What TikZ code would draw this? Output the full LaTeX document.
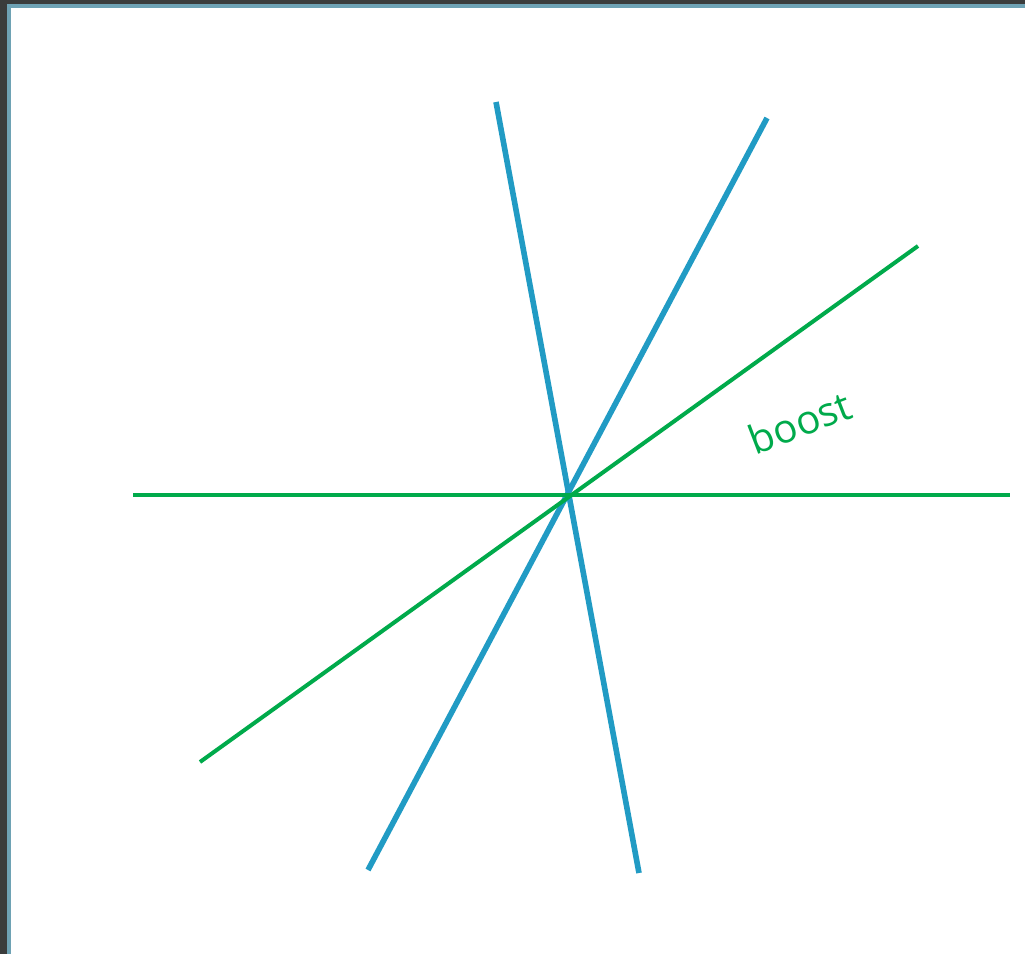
\documentclass[tikz,border=0pt]{standalone}
\usepackage{fontspec}
\setsansfont{Open Sans}
\usepackage{xcolor}
\definecolor{framedark}{RGB}{58,60,60}
\definecolor{frameteal}{RGB}{110,162,180}
\definecolor{worldblue}{RGB}{33,155,196}
\definecolor{boostgreen}{RGB}{0,170,75}
\usepackage{tikz}
\usetikzlibrary{positioning,calc}

\begin{document}
\begin{tikzpicture}[x=1pt,y=-1pt]
  \tikzstyle{axis}=[draw=worldblue,line width=5.6pt]
  \tikzstyle{boostaxis}=[draw=boostgreen,line width=4pt]
  % frame
  \fill[framedark] (0,0) rectangle (1025,954);
  \fill[frameteal] (7,4) rectangle (1025,954);
  \fill[white] (11,8) rectangle (1025,954);
  \useasboundingbox (0,0) rectangle (1025,954);

  \coordinate (origin) at (567,495);
  \coordinate (xleft) at (133,495);
  \coordinate (xright) at (1010,495);
  \coordinate (bleft) at (200,762);
  \coordinate (bright) at (918,246);
  \coordinate (tup) at (496,102);
  \coordinate (tdown) at (639,873);
  \coordinate (sup) at (767,118);
  \coordinate (sdown) at (368,870);

  \draw[axis] (tup) -- (tdown);
  \draw[axis] (sup) -- (sdown);
  \draw[boostaxis] (xleft) -- (xright);
  \draw[boostaxis] (bleft) -- (bright);

  \node[text=boostgreen,font=\sffamily\fontsize{40}{48}\selectfont,rotate=21,inner sep=0pt] (boostlabel) at (800,422) {boost};
\end{tikzpicture}
\end{document}
